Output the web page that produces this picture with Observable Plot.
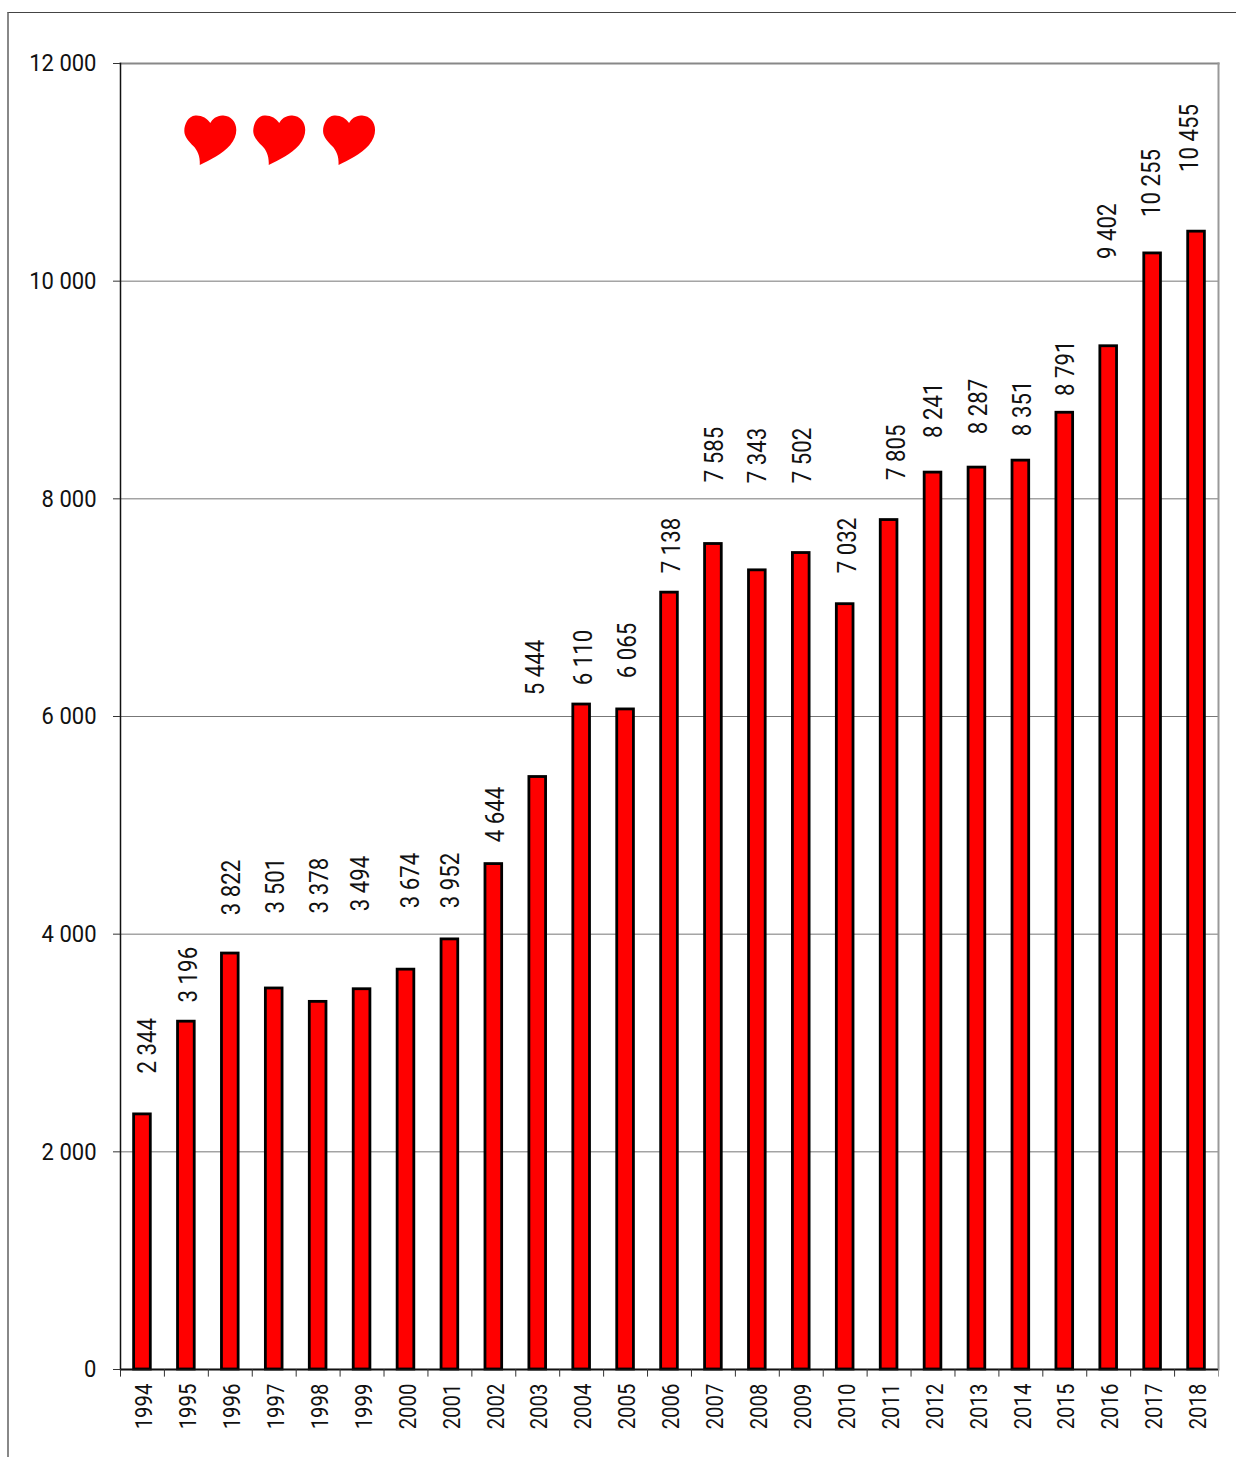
<!DOCTYPE html>
<html><head><meta charset="utf-8">
<script src="https://cdn.jsdelivr.net/npm/d3@7"></script>
<script src="https://cdn.jsdelivr.net/npm/@observablehq/plot@0.6"></script>
<style>
html,body{margin:0;padding:0;background:#fff}
#wrap{position:relative;width:1236px;height:1457px;overflow:hidden}
#wrap svg{position:absolute;left:0;top:0;background:transparent}
#edge{position:absolute;left:7px;top:12px;right:0;bottom:0;border-top:1px solid #444;border-left:2px solid #888}
</style></head><body>
<div id="wrap"><div id="edge"></div></div>
<script>
const years = ["1994","1995","1996","1997","1998","1999","2000","2001","2002","2003","2004","2005","2006","2007","2008","2009","2010","2011","2012","2013","2014","2015","2016","2017","2018"];
const values = [2344,3196,3822,3501,3378,3494,3674,3952,4644,5444,6110,6065,7138,7585,7343,7502,7032,7805,8241,8287,8351,8791,9402,10255,10455];
// where each hand-placed label starts, on the value axis
const labelAt = [2720,3373,4173,4191,4191,4210,4237,4237,4844,6195,6287,6351,7317,8153,8144,8144,7316,8172,8558,8594,8576,8944,10203,10589,11003];
// and how far each sits beside its bar
const labelShift = [5.7,2.6,1.7,1.7,2.3,-0.6,5,1.1,2.1,-1.8,2.3,2.4,2.5,1.5,1.1,1.7,2.8,7.4,1.4,2,2.1,1.7,-0.7,-0.7,-6.6];
const yTicks = [0,2000,4000,6000,8000,10000,12000];

const table = years.map((year,i)=>({year,value:values[i],labelAt:labelAt[i],shift:labelShift[i]}));
const spaced = n => d3.format(",")(n).replace(/,/g," ");
const FONT = "Roboto,sans-serif";
const step = 43.92;

const heart = {draw(c,size){
  const s = Math.sqrt(size/Math.PI)/26;
  const P = (...a)=>a.map(v=>v*s);
  c.moveTo(...P(0,-17));
  c.bezierCurveTo(...P(-3,-22,-9,-25,-15,-24.5));
  c.bezierCurveTo(...P(-22,-24,-26,-16,-26,-9));
  c.bezierCurveTo(...P(-26,-3,-21,2,-17,6));
  c.bezierCurveTo(...P(-13,10,-10,16,-10.5,25));
  c.bezierCurveTo(...P(0,20,12,14,20,5));
  c.bezierCurveTo(...P(24,0,26,-5,26,-10));
  c.bezierCurveTo(...P(26,-18,21,-24,13,-24.5));
  c.bezierCurveTo(...P(7,-25,2,-21,0,-17));
  c.closePath();
}};
const hearts = [{year:"1996",nudge:-20},{year:"1997",nudge:5},{year:"1999",nudge:-13}];

const chart = Plot.plot({
  width:1236,height:1457,
  marginLeft:120,marginRight:18,marginTop:63,marginBottom:88,
  style:{fontFamily:FONT,color:"#111",background:"transparent",overflow:"visible"},
  x:{domain:years,paddingInner:0.62,paddingOuter:0.31,align:0.5,round:false,label:null},
  y:{domain:[0,12000],label:null},
  marks:[
    Plot.ruleY(yTicks.slice(1,-1),{stroke:"#777",strokeWidth:1}),
    Plot.frame({anchor:"top",stroke:"#888",strokeWidth:2}),
    Plot.frame({anchor:"right",stroke:"#999",strokeWidth:2}),
    Plot.ruleY([0],{stroke:"#aaa",strokeWidth:3}),
    Plot.barY(table,{x:"year",y:"value",fill:"#ff0000",stroke:"#000",strokeWidth:2.8}),
    Plot.frame({anchor:"left",stroke:"#111",strokeWidth:1.5}),
    Plot.ruleY([0],{stroke:"#111",strokeWidth:1.5}),
    Plot.axisY({ticks:yTicks,tickFormat:spaced,tickSize:7,tickPadding:17,fontSize:24,stroke:"#333",label:null}),
    Plot.axisX({tickSize:0,tickRotate:-90,tickPadding:14,dx:2,fontSize:24,label:null}),
    Plot.ruleX(years,{x:d=>d,dx:-step/2,y1:0,y2:-70,stroke:"#333",strokeWidth:1}),
    Plot.ruleX(years.slice(-1),{x:d=>d,dx:step/2,y1:0,y2:-70,stroke:"#999",strokeWidth:1}),
    ...table.map(d=>Plot.text([d],{x:"year",y:"labelAt",text:r=>spaced(r.value),rotate:-90,textAnchor:"start",lineAnchor:"middle",dx:d.shift,fontSize:25,fill:"#111"})),
    ...hearts.map(h=>Plot.dot([h],{x:"year",y:()=>11297,dx:h.nudge,r:26,symbol:heart,fill:"#ff0000",stroke:"none"}))
  ]
});
document.getElementById("wrap").appendChild(chart);
// The reference face is a condensed DIN: narrow Roboto along its reading direction.
chart.querySelectorAll("text").forEach(t=>{
  const s = t.textContent.trim();
  const f = /^\d{4}$/.test(s) ? 0.85 : (yTicks.map(spaced).includes(s) ? 0.917 : 0.89);
  t.setAttribute("textLength", t.getComputedTextLength()*f);
  t.setAttribute("lengthAdjust","spacingAndGlyphs");
});
</script></body></html>
